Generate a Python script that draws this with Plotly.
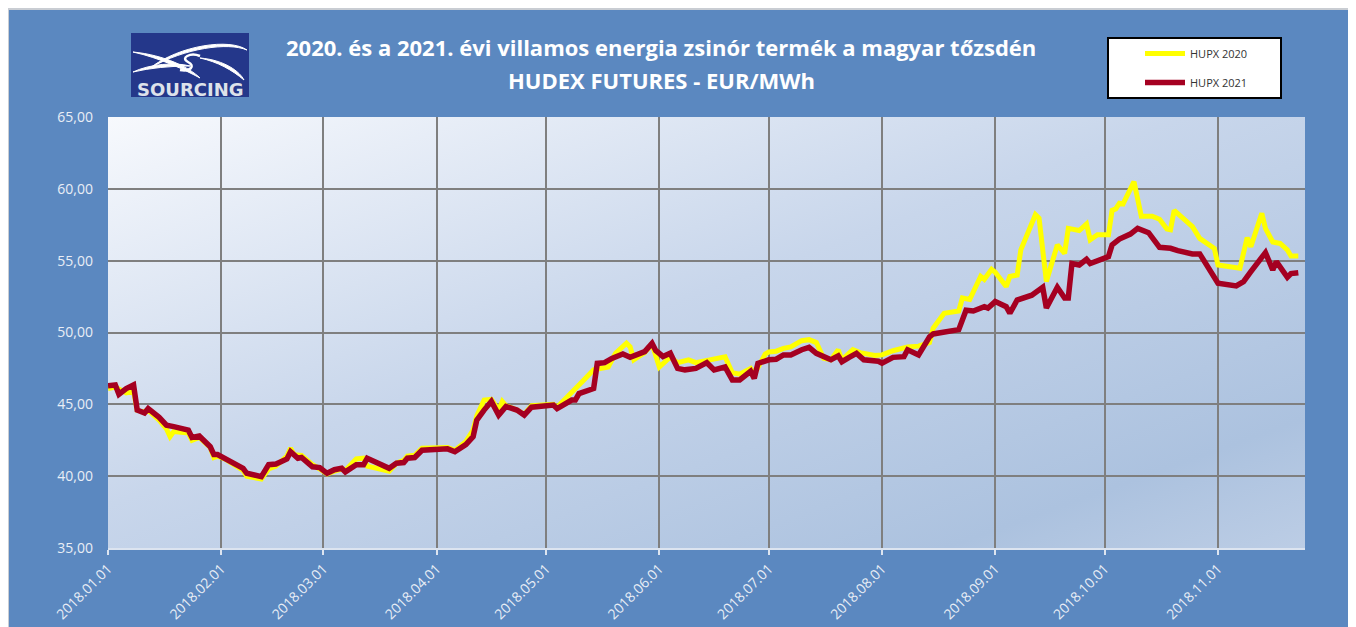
import base64
import plotly.graph_objects as go

# ---------------- data ----------------
dates_2021 = [
    "2018-01-01", "2018-01-03", "2018-01-04", "2018-01-06", "2018-01-08", "2018-01-09",
    "2018-01-11", "2018-01-12", "2018-01-15", "2018-01-17", "2018-01-19", "2018-01-23",
    "2018-01-24", "2018-01-26", "2018-01-29", "2018-01-30", "2018-01-31", "2018-02-02",
    "2018-02-07", "2018-02-08", "2018-02-12", "2018-02-14", "2018-02-16", "2018-02-19",
    "2018-02-20", "2018-02-22", "2018-02-23", "2018-02-26", "2018-02-28", "2018-03-02",
    "2018-03-04", "2018-03-06", "2018-03-07", "2018-03-10", "2018-03-12", "2018-03-13",
    "2018-03-19", "2018-03-21", "2018-03-23", "2018-03-24", "2018-03-26", "2018-03-28",
    "2018-04-04", "2018-04-06", "2018-04-09", "2018-04-11", "2018-04-12", "2018-04-14",
    "2018-04-16", "2018-04-18", "2018-04-20", "2018-04-23", "2018-04-25", "2018-04-27",
    "2018-05-03", "2018-05-04", "2018-05-08", "2018-05-09", "2018-05-10", "2018-05-14",
    "2018-05-15", "2018-05-17", "2018-05-19", "2018-05-22", "2018-05-24", "2018-05-28",
    "2018-05-30", "2018-05-31", "2018-06-02", "2018-06-04", "2018-06-06", "2018-06-08",
    "2018-06-11", "2018-06-14", "2018-06-16", "2018-06-19", "2018-06-21", "2018-06-23",
    "2018-06-26", "2018-06-27", "2018-06-28", "2018-07-01", "2018-07-03", "2018-07-05",
    "2018-07-07", "2018-07-10", "2018-07-12", "2018-07-14", "2018-07-16", "2018-07-18",
    "2018-07-20", "2018-07-21", "2018-07-23", "2018-07-25", "2018-07-27", "2018-07-31",
    "2018-08-01", "2018-08-04", "2018-08-07", "2018-08-08", "2018-08-11", "2018-08-14",
    "2018-08-15", "2018-08-18", "2018-08-22", "2018-08-24", "2018-08-26", "2018-08-29",
    "2018-08-30", "2018-09-01", "2018-09-04", "2018-09-05", "2018-09-07", "2018-09-11",
    "2018-09-14", "2018-09-15", "2018-09-18", "2018-09-20", "2018-09-21", "2018-09-22",
    "2018-09-24", "2018-09-26", "2018-09-27", "2018-10-02", "2018-10-03", "2018-10-05",
    "2018-10-08", "2018-10-10", "2018-10-13", "2018-10-16", "2018-10-19", "2018-10-21",
    "2018-10-25", "2018-10-27", "2018-11-01", "2018-11-06", "2018-11-08", "2018-11-10",
    "2018-11-14", "2018-11-16", "2018-11-17", "2018-11-20", "2018-11-21", "2018-11-23",
]
hupx_2021 = [
    46.30, 46.35, 45.70, 46.10, 46.35, 44.60,
    44.40, 44.70, 44.10, 43.55, 43.45, 43.20,
    42.70, 42.80, 42.05, 41.50, 41.50, 41.25,
    40.55, 40.20, 39.97, 40.80, 40.85, 41.20,
    41.70, 41.25, 41.30, 40.65, 40.60, 40.20,
    40.45, 40.55, 40.30, 40.80, 40.80, 41.25,
    40.55, 40.90, 40.95, 41.25, 41.30, 41.80,
    41.90, 41.70, 42.20, 42.75, 43.90, 44.60,
    45.20, 44.25, 44.85, 44.60, 44.25, 44.80,
    44.95, 44.70, 45.30, 45.30, 45.75, 46.10,
    47.85, 47.90, 48.20, 48.50, 48.27, 48.67,
    49.25, 48.75, 48.33, 48.56, 47.50, 47.40,
    47.50, 47.90, 47.40, 47.60, 46.70, 46.70,
    47.30, 46.80, 47.85, 48.10, 48.14, 48.44,
    48.44, 48.80, 48.97, 48.55, 48.37, 48.10,
    48.37, 47.97, 48.27, 48.55, 48.10, 48.00,
    47.86, 48.27, 48.32, 48.80, 48.44, 49.70,
    49.90, 50.00, 50.20, 51.55, 51.50, 51.80,
    51.70, 52.15, 51.80, 51.34, 52.26, 52.60,
    53.15, 51.70, 53.15, 52.40, 52.40, 54.80,
    54.70, 55.10, 54.80, 55.28, 56.10, 56.50,
    56.85, 57.25, 56.95, 55.93, 55.86, 55.70,
    55.47, 55.47, 53.43, 53.24, 53.54, 54.23,
    55.56, 54.35, 54.93, 53.84, 54.10, 54.16,
]

dates_2020 = [
    "2018-01-01", "2018-01-03", "2018-01-06", "2018-01-08", "2018-01-09", "2018-01-11",
    "2018-01-12", "2018-01-15", "2018-01-17", "2018-01-18", "2018-01-19", "2018-01-23",
    "2018-01-24", "2018-01-26", "2018-01-29", "2018-01-30", "2018-01-31", "2018-02-02",
    "2018-02-07", "2018-02-08", "2018-02-12", "2018-02-14", "2018-02-16", "2018-02-19",
    "2018-02-20", "2018-02-21", "2018-02-23", "2018-02-26", "2018-02-28", "2018-03-02",
    "2018-03-04", "2018-03-06", "2018-03-07", "2018-03-10", "2018-03-12", "2018-03-13",
    "2018-03-19", "2018-03-21", "2018-03-23", "2018-03-24", "2018-03-26", "2018-03-28",
    "2018-04-04", "2018-04-06", "2018-04-09", "2018-04-11", "2018-04-12", "2018-04-14",
    "2018-04-16", "2018-04-18", "2018-04-19", "2018-04-20", "2018-04-23", "2018-04-25",
    "2018-04-27", "2018-05-03", "2018-05-04", "2018-05-08", "2018-05-11", "2018-05-14",
    "2018-05-18", "2018-05-20", "2018-05-23", "2018-05-24", "2018-05-25", "2018-05-28",
    "2018-05-30", "2018-06-01", "2018-06-04", "2018-06-06", "2018-06-09", "2018-06-11",
    "2018-06-16", "2018-06-19", "2018-06-21", "2018-06-23", "2018-06-26", "2018-06-27",
    "2018-06-30", "2018-07-01", "2018-07-03", "2018-07-05", "2018-07-07", "2018-07-10",
    "2018-07-12", "2018-07-14", "2018-07-16", "2018-07-18", "2018-07-20", "2018-07-21",
    "2018-07-24", "2018-07-26", "2018-07-30", "2018-08-01", "2018-08-04", "2018-08-08",
    "2018-08-11", "2018-08-14", "2018-08-15", "2018-08-18", "2018-08-22", "2018-08-23",
    "2018-08-25", "2018-08-28", "2018-08-29", "2018-08-31", "2018-09-01", "2018-09-04",
    "2018-09-05", "2018-09-07", "2018-09-08", "2018-09-12", "2018-09-13", "2018-09-15",
    "2018-09-18", "2018-09-20", "2018-09-21", "2018-09-24", "2018-09-26", "2018-09-27",
    "2018-09-29", "2018-10-02", "2018-10-03", "2018-10-04", "2018-10-05", "2018-10-06",
    "2018-10-09", "2018-10-11", "2018-10-14", "2018-10-16", "2018-10-18", "2018-10-19",
    "2018-10-20", "2018-10-25", "2018-10-27", "2018-10-31", "2018-11-01", "2018-11-07",
    "2018-11-09", "2018-11-10", "2018-11-13", "2018-11-14", "2018-11-16", "2018-11-18",
    "2018-11-20", "2018-11-21", "2018-11-23",
]
hupx_2020 = [
    46.10, 46.20, 45.80, 45.90, 44.60, 44.50,
    44.60, 43.90, 43.30, 42.75, 43.10, 43.00,
    42.50, 42.70, 42.00, 41.30, 41.40, 41.20,
    40.40, 40.00, 39.80, 40.50, 40.70, 41.40,
    41.95, 41.50, 41.45, 40.80, 40.50, 40.15,
    40.35, 40.50, 40.40, 41.20, 41.25, 40.70,
    40.35, 40.90, 41.10, 41.40, 41.45, 41.95,
    42.00, 41.80, 42.40, 43.20, 44.20, 45.30,
    45.35, 44.60, 45.20, 44.90, 44.60, 44.30,
    44.90, 45.00, 44.80, 45.90, 46.60, 47.40,
    47.60, 48.55, 49.25, 49.00, 48.10, 48.60,
    49.20, 47.60, 48.30, 47.90, 48.10, 47.90,
    48.20, 48.30, 47.20, 47.10, 47.50, 47.10,
    48.50, 48.65, 48.70, 48.90, 49.00, 49.43,
    49.50, 49.30, 48.20, 48.10, 48.80, 48.10,
    48.80, 48.60, 48.40, 48.44, 48.73, 49.00,
    49.05, 49.30, 50.30, 51.34, 51.50, 52.40,
    52.30, 53.90, 53.70, 54.40, 54.20, 53.20,
    53.90, 54.00, 55.75, 58.20, 57.95, 53.55,
    56.10, 55.50, 57.25, 57.10, 57.55, 56.45,
    56.80, 56.80, 58.50, 58.60, 59.00, 58.95,
    60.50, 58.10, 58.10, 57.88, 57.20, 57.15,
    58.50, 57.37, 56.55, 55.85, 54.70, 54.47,
    56.60, 55.97, 58.30, 57.25, 56.30, 56.20,
    55.75, 55.33, 55.33,
]

series_names = ["HUPX 2020", "HUPX 2021"]
title_lines = ["2020. és a 2021. évi villamos energia zsinór termék a magyar tőzsdén",
               "HUDEX FUTURES - EUR/MWh"]
logo_text = "SOURCING"

# ---------------- layout geometry (page pixels) ----------------
OFF = 8                      # default body margin of the html page
W, H = 1356 - OFF, 627 - OFF  # figure size
PL, PR, PT, PB = 108, 1305, 117, 548  # plot area in page px
BLUE = "#5B88C0"
YELLOW = "#FFFF00"
RED = "#A50021"
GRID = "#7F7F7F"
TFONT = "'Open Sans', sans-serif"


def px(x):
    return (x - PL) / (PR - PL)


def py(y):
    return (PB - y) / (PB - PT)


fig = go.Figure()
fig.add_trace(go.Scatter(x=dates_2020, y=hupx_2020, name=series_names[0], mode="lines",
                         line=dict(color=YELLOW, width=5), legendgroup="a"))
fig.add_trace(go.Scatter(x=dates_2021, y=hupx_2021, name=series_names[1], mode="lines",
                         line=dict(color=RED, width=5.5), legendgroup="b"))

# gradient plot background as svg image
svg = ("<svg xmlns='http://www.w3.org/2000/svg' width='400' height='200' viewBox='0 0 400 200' "
       "preserveAspectRatio='none'><defs><linearGradient id='g' x1='0' y1='0' x2='1' y2='1'>"
       "<stop offset='0' stop-color='#F7F9FD'/><stop offset='0.45' stop-color='#C8D6EB'/>"
       "<stop offset='0.85' stop-color='#ACC2DF'/><stop offset='1' stop-color='#BCCDE5'/>"
       "</linearGradient></defs><rect width='400' height='200' fill='url(#g)'/></svg>")
src = "data:image/svg+xml;base64," + base64.b64encode(svg.encode()).decode()

shapes = []
# light frame line around the chart
shapes.append(dict(type="line", xref="paper", yref="paper", x0=px(OFF), x1=px(1356), y0=py(OFF + 1), y1=py(OFF + 1),
                   line=dict(color="#C9CDD3", width=2)))
shapes.append(dict(type="line", xref="paper", yref="paper", x0=px(OFF), x1=px(OFF), y0=py(OFF), y1=py(627),
                   line=dict(color="#C9CDD3", width=2)))

# logo
shapes.append(dict(type="rect", xref="paper", yref="paper", x0=px(131), x1=px(249), y0=py(97), y1=py(33),
                   fillcolor="#24378A", line=dict(width=0)))


def path(points):
    s = "M {:.5f},{:.5f}".format(px(points[0][0]), py(points[0][1]))
    rest = points[1:]
    for i in range(0, len(rest), 3):
        s += " C " + " ".join("{:.5f},{:.5f}".format(px(a), py(b)) for a, b in rest[i:i + 3])
    return s


swooshes = [
    [(133, 52), (160, 58), (185, 70), (200, 78), (190, 68), (165, 55), (133, 52)],
    [(150, 68), (180, 45), (230, 38), (247, 50), (228, 42), (185, 48), (150, 68)],
    [(133, 72), (150, 64), (175, 62), (190, 66), (170, 66), (150, 68), (133, 72)],
    [(200, 58), (225, 60), (240, 72), (244, 80), (232, 70), (218, 62), (200, 58)],
]
for sw in swooshes:
    shapes.append(dict(type="path", xref="paper", yref="paper", path=path(sw),
                       fillcolor="white", line=dict(color="white", width=1)))
shapes.append(dict(type="path", xref="paper", yref="paper",
                   path=path([(200, 56), (190, 52), (180, 58), (188, 62), (196, 66), (190, 72), (180, 70)]),
                   line=dict(color="white", width=2.5)))

# legend box
shapes.append(dict(type="rect", xref="paper", yref="paper", x0=px(1108), x1=px(1281), y0=py(98), y1=py(38),
                   fillcolor="white", line=dict(color="black", width=2)))

annotations = [
    dict(text="<b>" + title_lines[0] + "</b>", xref="paper", yref="paper", x=px(661), y=py(47),
         showarrow=False, font=dict(family=TFONT, size=22, color="white"), xanchor="center", yanchor="middle"),
    dict(text="<b>" + title_lines[1] + "</b>", xref="paper", yref="paper", x=px(661), y=py(80),
         showarrow=False, font=dict(family=TFONT, size=22, color="white"), xanchor="center", yanchor="middle"),
    dict(text="<b>" + logo_text + "</b>", xref="paper", yref="paper", x=px(190), y=py(89),
         showarrow=False, font=dict(family="DejaVu Sans, sans-serif", size=18, color="#DDE2EA"),
         xanchor="center", yanchor="middle"),
]

fig.update_layout(
    width=W, height=H,
    margin=dict(l=PL - OFF, r=1356 - PR, t=PT - OFF, b=627 - PB, autoexpand=False),
    paper_bgcolor=BLUE,
    plot_bgcolor="rgba(0,0,0,0)",
    separators=", ",
    showlegend=True,
    legend=dict(x=px(1140), y=py(39), xanchor="left", yanchor="top", bgcolor="rgba(0,0,0,0)",
                borderwidth=0, font=dict(family="'Open Sans', sans-serif", size=11, color="#333333"),
                traceorder="grouped", tracegroupgap=10, itemwidth=40),
    images=[dict(source=src, xref="paper", yref="paper", x=0, y=1, sizex=1, sizey=1,
                 xanchor="left", yanchor="top", sizing="stretch", layer="below")],
    shapes=shapes,
    annotations=annotations,
    xaxis=dict(type="date", range=["2018-01-01", "2018-11-24 20:00"], tick0="2018-01-01", dtick="M1",
               tickformat="%Y.%m.%d", tickangle=-45, showgrid=True, gridcolor=GRID, gridwidth=2,
               ticks="outside", ticklen=5, tickcolor="#DCE4F0", tickwidth=1.5, automargin=False,
               showline=True, linecolor="#DCE4F0", linewidth=2,
               tickfont=dict(family="'Open Sans', sans-serif", size=14, color="#E9EEF6"), zeroline=False),
    yaxis=dict(range=[35, 65], dtick=5, tick0=35, tickformat=".2f", showgrid=True, gridcolor=GRID,
               gridwidth=2, ticks="", showline=False, zeroline=False, ticklabelstandoff=14, automargin=False,
               tickfont=dict(family="'Open Sans', sans-serif", size=14, color="#E9EEF6")),
)

fig.write_html("out.html")
